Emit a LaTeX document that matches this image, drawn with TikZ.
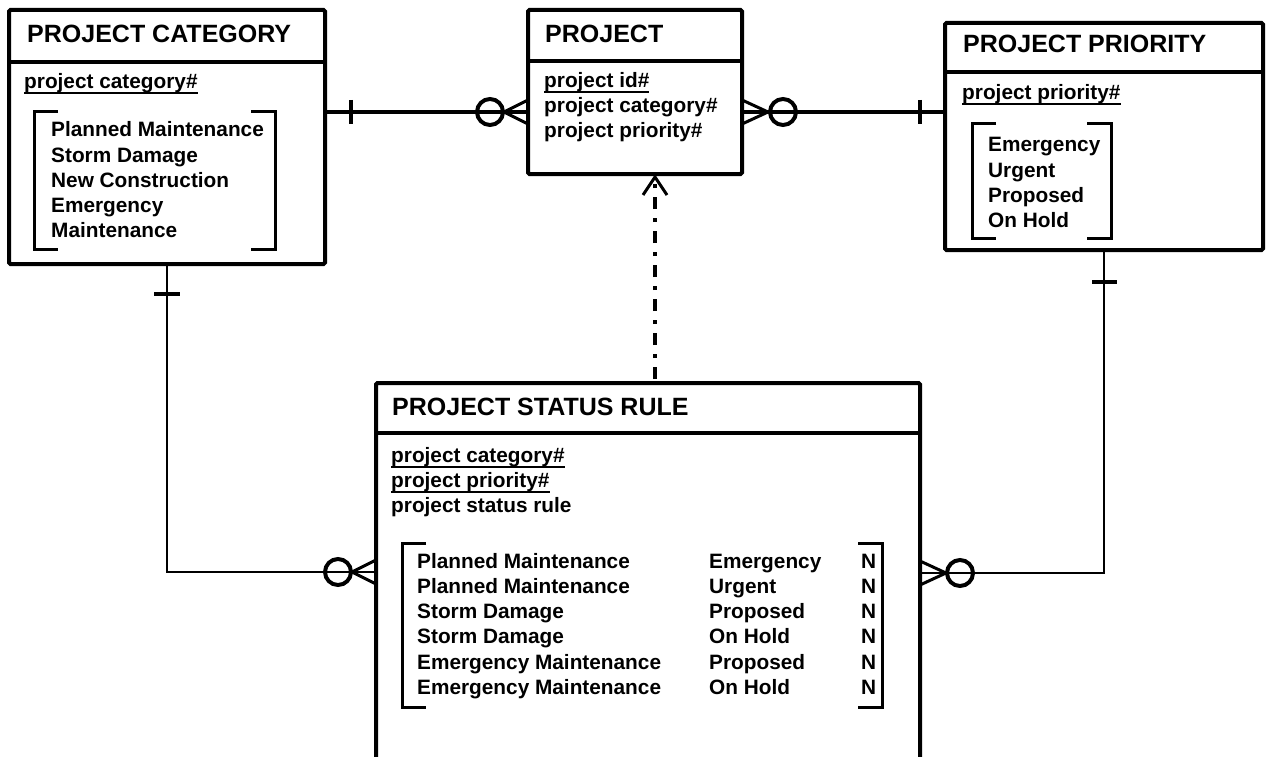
\documentclass[tikz,border=0pt]{standalone}
\usepackage{fontspec}
\setmainfont{Liberation Sans}
\usetikzlibrary{calc}

% key attribute: bold text with a heavy underline below the descenders
\newcommand\keyattr[1]{\setbox0\hbox{#1}\rlap{\rule[-5.5pt]{\wd0}{2pt}}\box0}

\tikzset{
  entity/.style={draw, line width=4pt, rounded corners=1.5pt, inner sep=0pt,
                 outer sep=0pt, anchor=north west},
  divider/.style={line width=4pt},
  ttl/.style={anchor=base west, inner sep=0pt, font=\fontsize{25}{30}\selectfont\bfseries},
  txt/.style={anchor=base west, inner sep=0pt, font=\fontsize{20.8}{25}\selectfont\bfseries},
  link/.style={line width=3.5pt},
  thinlink/.style={line width=2.6pt},
  prong/.style={line width=3pt, line join=miter},
  tick/.style={line width=3.6pt},
  ring/.style={line width=4pt},
  bracketline/.style={line width=3pt, line join=miter},
  dashdot link/.style={line width=3.5pt, dash pattern=on 12pt off 9pt on 4pt off 9pt},
}

\begin{document}
\begin{tikzpicture}[x=1pt, y=-1pt]
\useasboundingbox (0,0) rectangle (1269,757);
\clip (0,0) rectangle (1269,757);

% ---------- entity boxes ----------
\node[entity, minimum width=316pt, minimum height=254pt] (pc)   at (9,10)   {};
\node[entity, minimum width=214pt, minimum height=164pt] (proj) at (528,10) {};
\node[entity, minimum width=318pt, minimum height=227pt] (pp)   at (945,23) {};
\node[entity, minimum width=544pt, minimum height=420pt] (psr)  at (376,383) {};

\draw[divider] (pc.west |- 0,62)   -- (pc.east |- 0,62);
\draw[divider] (proj.west |- 0,61) -- (proj.east |- 0,61);
\draw[divider] (pp.west |- 0,72)   -- (pp.east |- 0,72);
\draw[divider] (psr.west |- 0,433) -- (psr.east |- 0,433);

% ---------- PROJECT CATEGORY ----------
\node[ttl] (pc-title) at (27,43) {PROJECT CATEGORY};
\node[txt] (pc-key) at (24,89) {\keyattr{project category\#}};
\node[txt] (pc-v1) at (51,137) {Planned Maintenance};
\node[txt] (pc-v2) at (51,162) {Storm Damage};
\node[txt] (pc-v3) at (51,187) {New Construction};
\node[txt] (pc-v4) at (51,212) {Emergency};
\node[txt] (pc-v5) at (51,237) {Maintenance};
\draw[bracketline] (58,112) -- (34,112) -- (34,249) -- (58,249);
\draw[bracketline] (251,112) -- (275,112) -- (275,249) -- (251,249);

% ---------- PROJECT ----------
\node[ttl] (proj-title) at (545,43) {PROJECT};
\node[txt] (proj-a1) at (544,88)  {\keyattr{project id\#}};
\node[txt] (proj-a2) at (544,113) {project category\#};
\node[txt] (proj-a3) at (544,138) {project priority\#};

% ---------- PROJECT PRIORITY ----------
\node[ttl] (pp-title) at (963,53) {PROJECT PRIORITY};
\node[txt] (pp-key) at (962,100) {\keyattr{project priority\#}};
\node[txt] (pp-v1) at (988,152) {Emergency};
\node[txt] (pp-v2) at (988,177) {Urgent};
\node[txt] (pp-v3) at (988,202) {Proposed};
\node[txt] (pp-v4) at (988,227) {On Hold};
\draw[bracketline] (996,124) -- (972,124) -- (972,238) -- (996,238);
\draw[bracketline] (1087,124) -- (1111,124) -- (1111,238) -- (1087,238);

% ---------- PROJECT STATUS RULE ----------
\node[ttl] (psr-title) at (392,415) {PROJECT STATUS RULE};
\node[txt] (psr-a1) at (391,462) {\keyattr{project category\#}};
\node[txt] (psr-a2) at (391,487) {\keyattr{project priority\#}};
\node[txt] (psr-a3) at (391,512) {project status rule};
\foreach \i/\cat/\pri [evaluate=\i as \yb using 568+25.3*(\i-1)] in
  {1/Planned Maintenance/Emergency, 2/Planned Maintenance/Urgent,
   3/Storm Damage/Proposed, 4/Storm Damage/On Hold,
   5/Emergency Maintenance/Proposed, 6/Emergency Maintenance/On Hold}{
  \node[txt] (psr-c\i) at (417,\yb) {\cat};
  \node[txt] (psr-p\i) at (709,\yb) {\pri};
  \node[txt] (psr-f\i) at (861,\yb) {N};
}
\draw[bracketline] (426,543) -- (402,543) -- (402,707) -- (426,707);
\draw[bracketline] (858,543) -- (882,543) -- (882,707) -- (858,707);

% ---------- PROJECT CATEGORY -- PROJECT ----------
\coordinate (l1a) at (pc.east |- 0,112);
\coordinate (l1b) at (proj.west |- 0,112);
\draw[link] (l1a) -- (l1b);
\draw[tick] ($(l1a)+(26,-12)$) -- ($(l1a)+(26,12)$);
\draw[ring] ($(l1b)+(-38,0)$) circle[radius=13pt];
\draw[prong] ($(l1b)+(0,-12)$) -- ($(l1b)+(-24,0)$) -- ($(l1b)+(0,12)$);

% ---------- PROJECT -- PROJECT PRIORITY ----------
\coordinate (l2a) at (proj.east |- 0,112);
\coordinate (l2b) at (pp.west |- 0,112);
\draw[link] (l2a) -- (l2b);
\draw[prong] ($(l2a)+(0,-12)$) -- ($(l2a)+(26,0)$) -- ($(l2a)+(0,12)$);
\draw[ring] ($(l2a)+(41,0)$) circle[radius=13pt];
\draw[tick] ($(l2b)+(-25,-12)$) -- ($(l2b)+(-25,12)$);

% ---------- PROJECT CATEGORY -- PROJECT STATUS RULE ----------
\coordinate (l3b) at (psr.west |- 0,572);
\draw[thinlink] (pc.south) |- (l3b);
\draw[tick] ($(pc.south)+(-13,30)$) -- ($(pc.south)+(13,30)$);
\draw[ring] ($(l3b)+(-38,0)$) circle[radius=13pt];
\draw[prong] ($(l3b)+(0,-12)$) -- ($(l3b)+(-24,0)$) -- ($(l3b)+(0,12)$);

% ---------- PROJECT PRIORITY -- PROJECT STATUS RULE ----------
\coordinate (l4b) at (psr.east |- 0,573);
\draw[thinlink] (pp.south) |- (l4b);
\draw[tick] ($(pp.south)+(-12,32)$) -- ($(pp.south)+(13,32)$);
\draw[ring] ($(l4b)+(40,0)$) circle[radius=13pt];
\draw[prong] ($(l4b)+(0,-12)$) -- ($(l4b)+(26,0)$) -- ($(l4b)+(0,12)$);

% ---------- PROJECT STATUS RULE -> PROJECT (dash-dot) ----------
\coordinate (l5a) at (655,0 |- psr.north);
\coordinate (l5b) at (655,177);
\draw[dashdot link] ($(l5a)+(0,-4)$) -- ($(l5b)+(0,3)$);
\draw[prong, line join=round] ($(l5b)+(-12,18)$) -- (l5b) -- ($(l5b)+(12,18)$);
\end{tikzpicture}
\end{document}
